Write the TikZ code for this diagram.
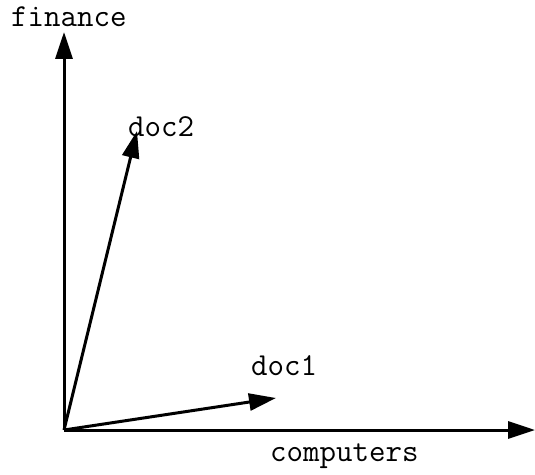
\documentclass[tikz,border=0pt]{standalone}
\usepackage{fontspec}
\usetikzlibrary{arrows.meta}
\begin{document}
\begin{tikzpicture}[x=1pt,y=1pt,
  vec/.style={line width=3pt,-{Triangle[length=27pt,width=17pt]}},
  lbl/.style={font=\ttfamily\fontsize{32}{34}\selectfont,inner sep=0pt,anchor=base west}]
\useasboundingbox (0,0) rectangle (535,474);
\coordinate (O) at (64,44);
\coordinate (yt) at (64,442);
\coordinate (xt) at (535,44);
\coordinate (d2) at (137,343);
\coordinate (d1) at (276,76);
\draw[vec] (O) -- (yt);
\draw[vec] (O) -- (xt);
\draw[vec] (O) -- (d2);
\draw[vec] (O) -- (d1);
\node[lbl] (fin) at (11,447) {finance};
\node[lbl] (doc2) at (128,337) {doc2};
\node[lbl] (doc1) at (251,99) {doc1};
\node[lbl] (comp) at (270,13) {computers};
\end{tikzpicture}
\end{document}
